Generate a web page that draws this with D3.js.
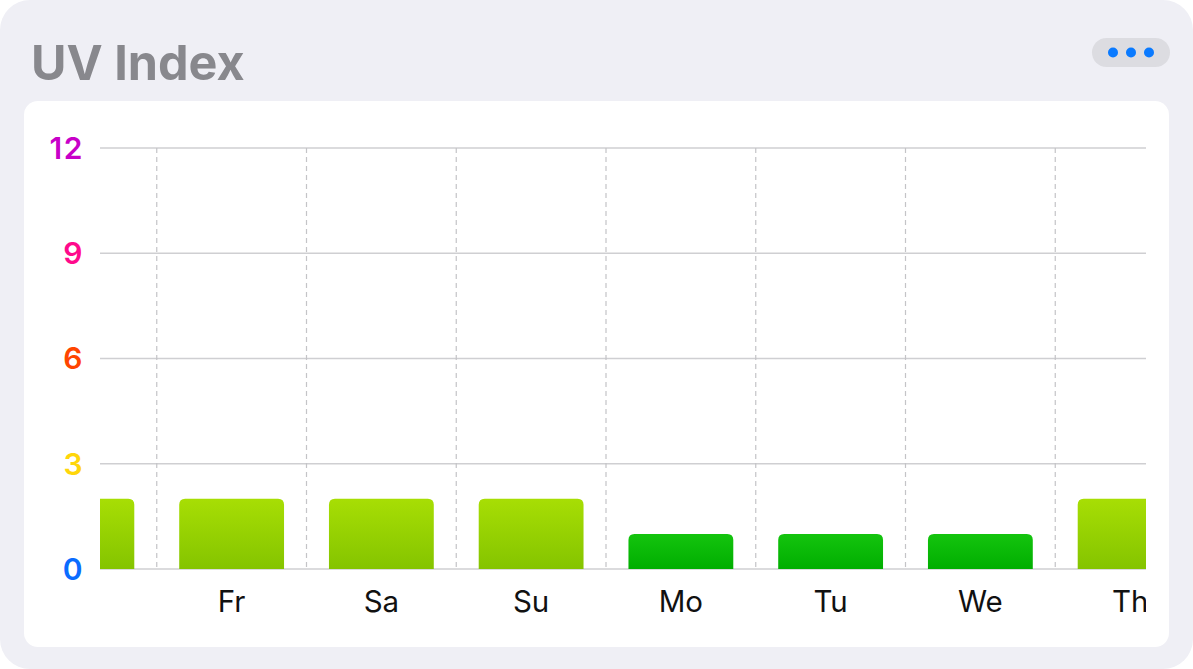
<!DOCTYPE html>
<html><head><meta charset="utf-8">
<script src="https://cdn.jsdelivr.net/npm/d3@7"></script>
<style>html,body{margin:0;padding:0;background:#fff;overflow:hidden}svg{display:block}</style>
</head><body>
<script>
const days = ["Th","Fr","Sa","Su","Mo","Tu","We","Th"];
const uvValues = [2,2,2,2,1,1,1,2];
const yTicks = [0,3,6,9,12];
const yTickColors = ["#0a6cff","#ffd60a","#ff4500","#ff0a8c","#c800c8"];
const title = "UV Index";

const W = 1193, H = 669;
const svg = d3.select("body").append("svg").attr("width", W).attr("height", H);
const font = "Inter, 'Noto Sans', sans-serif";

// card
svg.append("rect").attr("x",0).attr("y",0).attr("width",W).attr("height",H).attr("rx",30).attr("fill","#efeff5");
svg.append("text").attr("x",31).attr("y",80).attr("font-family",font).attr("font-weight",700)
  .attr("font-size",48.5).attr("fill","#88888d").text(title);
// menu pill
svg.append("rect").attr("x",1092).attr("y",38).attr("width",78).attr("height",29).attr("rx",14.5).attr("fill","#dcdce1");
[1113,1131,1149].forEach(cx=>svg.append("circle").attr("cx",cx).attr("cy",52.5).attr("r",5).attr("fill","#0a7aff"));
// inner panel
svg.append("rect").attr("x",24).attr("y",101).attr("width",1145).attr("height",546).attr("rx",14).attr("fill","#fff");

const plotL = 100, plotR = 1146, plotT = 148, plotB = 569;
const y = d3.scaleLinear().domain([0,12]).range([plotB, plotT]);
const x = d3.scaleBand().domain(d3.range(days.length)).range([7, 1205]).paddingInner(0.3).paddingOuter(0.15);
const step = x.step();

const defs = svg.append("defs");
defs.append("clipPath").attr("id","plotclip").append("rect")
  .attr("x",plotL).attr("y",0).attr("width",plotR-plotL).attr("height",H);
function grad(id, top, bot){
  const g = defs.append("linearGradient").attr("id",id).attr("x1",0).attr("y1",0).attr("x2",0).attr("y2",1);
  g.append("stop").attr("offset","0%").attr("stop-color",top);
  g.append("stop").attr("offset","100%").attr("stop-color",bot);
}
grad("g2","#a7de04","#84c400");
grad("g1","#14c40e","#00ae00");
const gradFor = v => v >= 2 ? "url(#g2)" : "url(#g1)";

// horizontal gridlines
svg.append("g").selectAll("line").data(yTicks).join("line")
  .attr("x1",plotL).attr("x2",plotR).attr("y1",d=>y(d)).attr("y2",d=>y(d))
  .attr("stroke","#cfcfd2").attr("stroke-width",1.3);
// y labels
svg.append("g").selectAll("text").data(yTicks).join("text")
  .attr("x",84).attr("y",d=>y(d)).attr("dy","0.36em").attr("text-anchor","end")
  .attr("font-family",font).attr("font-weight",600).attr("font-size",30).attr("letter-spacing",1.5)
  .attr("fill",(d,i)=>yTickColors[i]).text(d=>d);

const plot = svg.append("g").attr("clip-path","url(#plotclip)");
// vertical dashed lines at day boundaries
const bounds = d3.range(1, days.length).map(i => x(i) - x.paddingInner()*step/2);
plot.selectAll("line.v").data(bounds).join("line").attr("class","v")
  .attr("x1",d=>d).attr("x2",d=>d).attr("y1",plotT).attr("y2",plotB)
  .attr("stroke","#c4c4c7").attr("stroke-width",1.2).attr("stroke-dasharray","5,4");

// bars with rounded top corners
function barPath(x0, w, yTop, yBot, r){
  return `M${x0},${yBot}V${yTop+r}Q${x0},${yTop} ${x0+r},${yTop}H${x0+w-r}Q${x0+w},${yTop} ${x0+w},${yTop+r}V${yBot}Z`;
}
plot.selectAll("path.bar").data(uvValues).join("path").attr("class","bar")
  .attr("d",(d,i)=>barPath(x(i), x.bandwidth(), y(d), y(0), 6))
  .attr("fill",d=>gradFor(d));

// x labels
plot.selectAll("text.xl").data(days).join("text").attr("class","xl")
  .attr("x",(d,i)=>x(i)+x.bandwidth()/2).attr("y",612).attr("text-anchor","middle")
  .attr("font-family",font).attr("font-weight",400).attr("font-size",29.5).attr("fill","#111").text(d=>d);
</script>
</body></html>
